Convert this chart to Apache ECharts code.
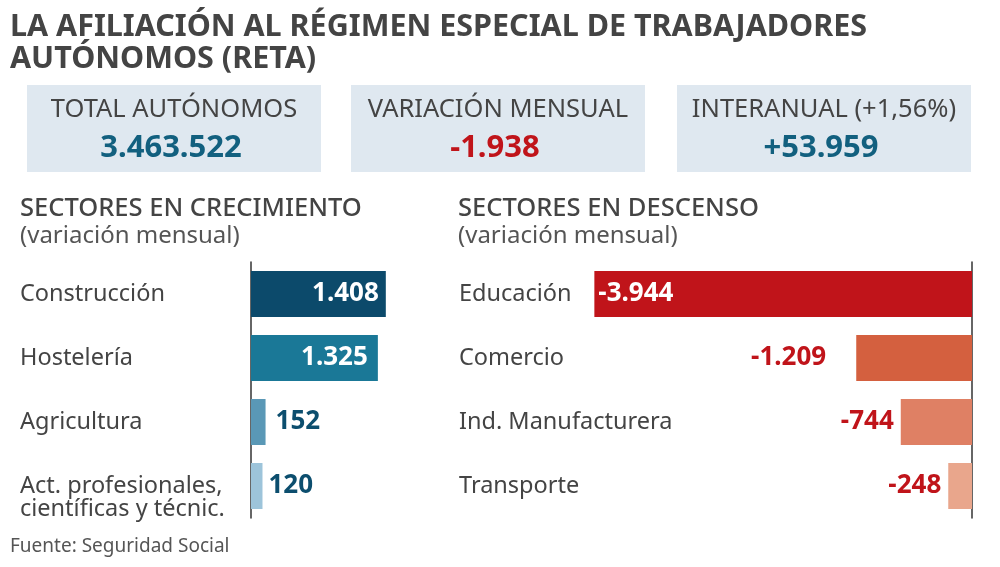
<!DOCTYPE html>
<html>
<head>
<meta charset="utf-8">
<script src="https://cdn.jsdelivr.net/npm/echarts@6/dist/echarts.min.js"></script>
<style>
  html, body { margin: 0; padding: 0; background: #fff; }
  #chart { width: 1000px; height: 567px; }
</style>
</head>
<body>
<div id="chart"></div>
<script>
// datos
const kpiLabels = ['TOTAL AUTÓNOMOS', 'VARIACIÓN MENSUAL', 'INTERANUAL (+1,56%)']
const kpiValues = ['3.463.522', '-1.938', '+53.959']

const upCategories = ['Construcción', 'Hostelería', 'Agricultura', 'Act. profesionales,\ncientíficas y técnic.']
const upValues = [1408, 1325, 152, 120]

const downCategories = ['Educación', 'Comercio', 'Ind. Manufacturera', 'Transporte']
const downValues = [-3944, -1209, -744, -248]

// estilos
const FONT = '"Noto Sans", Roboto, sans-serif'
const upColors = ['#0c4a6b', '#1a7897', '#5a98b6', '#9dc4da']
const downColors = ['#c0141a', '#d4603f', '#df8064', '#e9a68c']
const upLabelGap = [7, 10, 10, 6]
const downLabelGap = [4, 30, 7, 7]
const kpiColors = ['#12607f', '#c0141a', '#12607f']

function fmt(v) {
  const s = String(Math.abs(v)).replace(/\B(?=(\d{3})+(?!\d))/g, '.')
  return v < 0 ? '-' + s : s
}

const upData = upValues.map((v, i) => ({
  value: v,
  itemStyle: { color: upColors[i] },
  label: v > 1000
    ? { position: 'insideRight', color: '#fff', distance: upLabelGap[i] }
    : { position: 'right', color: '#0c4e6e', distance: upLabelGap[i] }
}))

const downData = downValues.map((v, i) => ({
  value: v,
  itemStyle: { color: downColors[i] },
  label: v < -3000
    ? { position: 'insideLeft', color: '#fff', distance: downLabelGap[i] }
    : { position: 'left', color: '#c0141a', distance: downLabelGap[i] }
}))

const boxW = 294
const boxX = [27, 351, 677]
const graphic = []
kpiLabels.forEach((t, i) => {
  graphic.push({
    type: 'rect',
    shape: { x: boxX[i], y: 85, width: boxW, height: 87 },
    style: { fill: '#dfe8f0' },
    z: 0
  })
  graphic.push({
    type: 'text',
    x: boxX[i] + boxW / 2,
    y: 110,
    style: {
      text: t, fill: '#444', font: '400 25.5px ' + FONT,
      textAlign: 'center', textVerticalAlign: 'middle'
    }
  })
  graphic.push({
    type: 'text',
    x: boxX[i] + boxW / 2 - 3,
    y: 148,
    style: {
      text: kpiValues[i], fill: kpiColors[i], font: '700 31px ' + FONT,
      textAlign: 'center', textVerticalAlign: 'middle'
    }
  })
})

const option = {
  animation: false,
  backgroundColor: '#fff',
  textStyle: { fontFamily: FONT },
  title: [
    {
      text: 'LA AFILIACIÓN AL RÉGIMEN ESPECIAL DE TRABAJADORES\nAUTÓNOMOS (RETA)',
      left: 10, top: 11, padding: 0,
      textStyle: { fontSize: 30.5, fontWeight: 700, color: '#444', lineHeight: 32, fontFamily: FONT }
    },
    {
      text: 'SECTORES EN CRECIMIENTO',
      subtext: '(variación mensual)',
      left: 20, top: 196, padding: 0, itemGap: 2,
      textStyle: { fontSize: 25.5, fontWeight: 500, color: '#444', fontFamily: FONT },
      subtextStyle: { fontSize: 24, color: '#555', fontFamily: FONT }
    },
    {
      text: 'SECTORES EN DESCENSO',
      subtext: '(variación mensual)',
      left: 458, top: 196, padding: 0, itemGap: 2,
      textStyle: { fontSize: 25.5, fontWeight: 500, color: '#444', fontFamily: FONT },
      subtextStyle: { fontSize: 24, color: '#555', fontFamily: FONT }
    },
    {
      text: 'Fuente: Seguridad Social',
      left: 10, top: 537, padding: 0,
      textStyle: { fontSize: 19, fontWeight: 400, color: '#555', fontFamily: FONT }
    }
  ],
  graphic: graphic,
  grid: [
    { left: 251, top: 262, width: 383, height: 256, containLabel: false, outerBoundsMode: 'none' },
    { left: 589, top: 262, width: 383, height: 256, containLabel: false, outerBoundsMode: 'none' }
  ],
  xAxis: [
    { gridIndex: 0, type: 'value', min: 0, max: 4000, show: false },
    { gridIndex: 1, type: 'value', min: -4000, max: 0, show: false }
  ],
  yAxis: [
    {
      gridIndex: 0, type: 'category', inverse: true, data: upCategories,
      axisLine: { show: true, onZero: false, lineStyle: { color: '#333', width: 1.5 } },
      axisTick: { show: false },
      axisLabel: {
        align: 'left', margin: 231, fontSize: 23.5, color: '#444', lineHeight: 23, fontFamily: FONT,
        // las etiquetas de dos líneas van algo más abajo
        formatter: v => (v.indexOf('\n') >= 0 ? '\n' + v : v)
      }
    },
    {
      gridIndex: 1, type: 'category', inverse: true, position: 'right', data: downCategories,
      axisLine: { show: true, onZero: false, lineStyle: { color: '#333', width: 1.5 } },
      axisTick: { show: false },
      axisLabel: {
        inside: true, align: 'left', margin: 513, fontSize: 23.5, color: '#444', fontFamily: FONT
      }
    }
  ],
  series: [
    {
      type: 'bar', xAxisIndex: 0, yAxisIndex: 0, barWidth: 46, data: upData,
      label: { show: true, fontSize: 26, fontWeight: 700, fontFamily: FONT, formatter: p => fmt(p.value) }
    },
    {
      type: 'bar', xAxisIndex: 1, yAxisIndex: 1, barWidth: 46, data: downData,
      label: { show: true, fontSize: 26, fontWeight: 700, fontFamily: FONT, formatter: p => fmt(p.value) }
    }
  ]
}

const myChart = echarts.init(document.getElementById('chart'))
myChart.setOption(option)
</script>
</body>
</html>
